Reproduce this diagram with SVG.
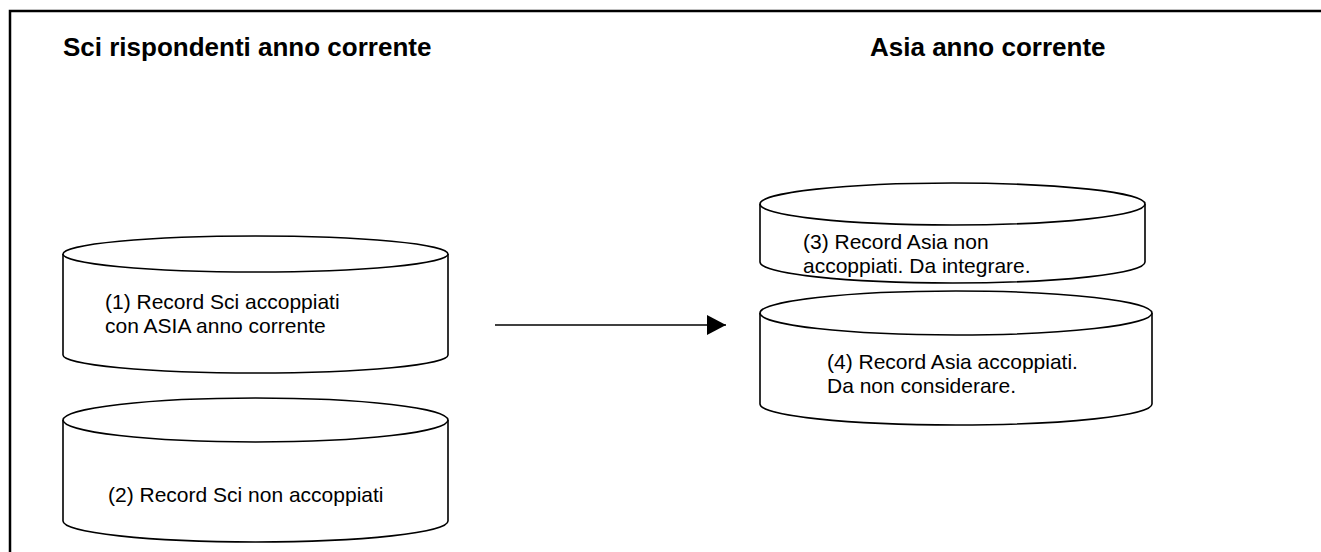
<svg xmlns="http://www.w3.org/2000/svg" width="1321" height="552" viewBox="0 0 1321 552">
  <style>
    .frame { fill: none; stroke: #000; stroke-width: 2.5; }
    .cyl { fill: #fff; stroke: #000; stroke-width: 1.6; }
    .title { font-family: "Liberation Sans", Arial, sans-serif; font-weight: bold; font-size: 26px; fill: #000; }
    .label { font-family: "Liberation Sans", Arial, sans-serif; font-size: 21px; fill: #000; }
    .conn { stroke: #000; stroke-width: 1.6; fill: none; }
  </style>
  <defs>
    <marker id="arrowhead" markerUnits="userSpaceOnUse" markerWidth="20" markerHeight="20" refX="19" refY="10" orient="auto">
      <path d="M0,0 L19,10 L0,20 Z" fill="#000"/>
    </marker>
  </defs>

  <rect width="1321" height="552" fill="#fff"/>
  <!-- page frame: top and left edges -->
  <path class="frame" d="M10,552 L10,11 L1321,11"/>

  <text class="title" x="63" y="56">Sci rispondenti anno corrente</text>
  <text class="title" x="870" y="56">Asia anno corrente</text>

  <g id="sci-accoppiati">
    <path class="cyl" d="M63,254 A192.5,18 0 0 1 448,254 L448,355 A192.5,18 0 0 1 63,355 Z"/>
    <path class="cyl" d="M63,254 A192.5,18 0 0 0 448,254"/>
    <text class="label" x="105" y="309">(1) Record Sci accoppiati</text>
    <text class="label" x="105" y="333">con ASIA anno corrente</text>
  </g>

  <g id="sci-non-accoppiati">
    <path class="cyl" d="M63,420 A192.5,22 0 0 1 448,420 L448,521 A192.5,21 0 0 1 63,521 Z"/>
    <path class="cyl" d="M63,420 A192.5,22 0 0 0 448,420"/>
    <text class="label" x="108" y="502">(2) Record Sci non accoppiati</text>
  </g>

  <g id="asia-non-accoppiati">
    <path class="cyl" d="M760,204 A192.5,21 0 0 1 1145,204 L1145,262 A192.5,21 0 0 1 760,262 Z"/>
    <path class="cyl" d="M760,204 A192.5,21 0 0 0 1145,204"/>
    <text class="label" x="803" y="249">(3) Record Asia non</text>
    <text class="label" x="803" y="273">accoppiati. Da integrare.</text>
  </g>

  <g id="asia-accoppiati">
    <path class="cyl" d="M760,313 A196,22 0 0 1 1152,313 L1152,404 A196,21 0 0 1 760,404 Z"/>
    <path class="cyl" d="M760,313 A196,22 0 0 0 1152,313"/>
    <text class="label" x="827" y="369">(4) Record Asia accoppiati.</text>
    <text class="label" x="827" y="393">Da non considerare.</text>
  </g>

  <g id="connectors">
    <line class="conn" x1="495" y1="325" x2="726" y2="325" marker-end="url(#arrowhead)"/>
  </g>
</svg>
